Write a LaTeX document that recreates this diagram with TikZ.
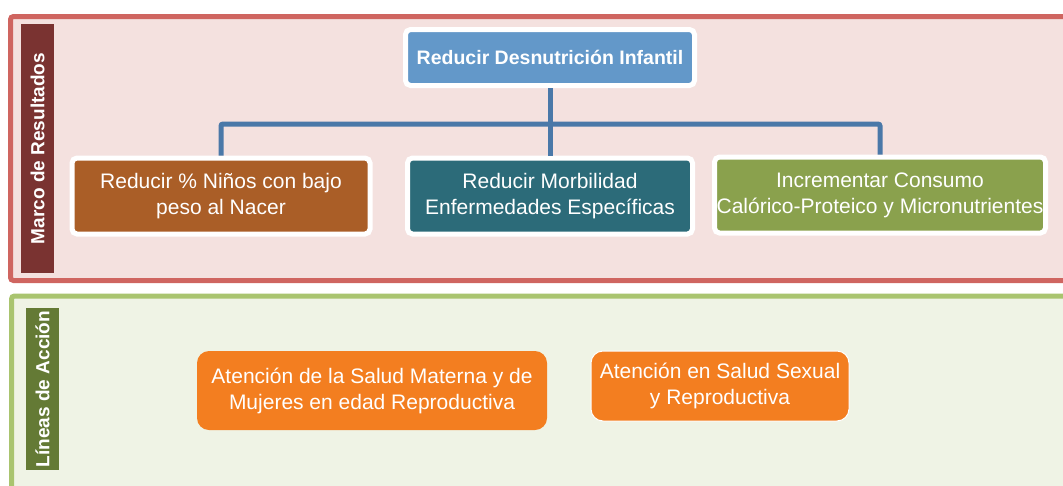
\documentclass[tikz,border=0pt]{standalone}
\usepackage{fontspec}
\setmainfont{Liberation Sans}
\usepackage{tikz}
\usetikzlibrary{positioning}
\usepackage{xcolor}
\definecolor{redline}{HTML}{CF6560}
\definecolor{redfill}{HTML}{F4E1DF}
\definecolor{greenline}{HTML}{A9C46F}
\definecolor{greenfill}{HTML}{EFF3E5}
\definecolor{maroonbar}{HTML}{7A3331}
\definecolor{olivebar}{HTML}{647A35}
\definecolor{skyblue}{HTML}{6398C9}
\definecolor{rustcol}{HTML}{AA5E27}
\definecolor{tealcol}{HTML}{2C6B79}
\definecolor{grasscol}{HTML}{8AA14D}
\definecolor{orangecol}{HTML}{F37E20}
\definecolor{linkcol}{HTML}{4A78A8}
\tikzstyle{panel}=[line width=5,rounded corners=3]
\tikzstyle{sidebar}=[rotate=90,text=white,inner sep=0,font=\fontsize{19}{22}\selectfont\bfseries]
\tikzstyle{goal}=[draw=white,line width=5,rounded corners=5,text=white,align=center,
                  inner sep=0,font=\fontsize{21}{26}\selectfont]
\tikzstyle{action}=[fill=orangecol,rounded corners=12,text=white,align=center,
                    inner sep=0,font=\fontsize{21}{26}\selectfont]
\tikzstyle{link}=[line width=5,linkcol,rounded corners=2]

\begin{document}
\begin{tikzpicture}[x=1pt,y=-1pt]
  \def\hg{76}  % goal height
  \def\yg{196} % goal row
  \clip (0,0) rectangle (1063,485);

  % PANELS
  \draw[panel,draw=redline,fill=redfill] (10.5,16.5) rectangle (1085,280.5);
  \draw[panel,draw=greenline,fill=greenfill] (11.5,296) rectangle (1085,505);
  \node[sidebar,fill=maroonbar,minimum width=249,minimum height=33] (marco) at (37.5,148.5) {Marco de Resultados};
  \node[sidebar,fill=olivebar,minimum width=162,minimum height=33] (lineas) at (42.5,389) {Líneas de Acción};

  % GOALS
  \node[goal,fill=skyblue,minimum width=289,minimum height=56,font=\fontsize{19.5}{24}\selectfont\bfseries] (desnut) at (550,57.5) {Reducir Desnutrición Infantil};
  \node[goal,fill=rustcol,minimum width=298,minimum height=\hg] (peso) at (221,\yg) {Reducir \% Niños con bajo\\peso al Nacer};
  \node[goal,fill=tealcol,minimum width=285,minimum height=\hg] (morb) at (550,\yg) {Reducir Morbilidad\\Enfermedades Específicas};
  \node[goal,fill=grasscol,minimum width=331,minimum height=\hg] (consumo) at (880,\yg-1) {Incrementar Consumo\\Calórico-Proteico y Micronutrientes};

  % LINKS
  \coordinate (bus) at (550,124);
  \draw[link] (desnut.south) -- (morb.north);
  \draw[link] (peso.north) |- (bus) -| (consumo.north);

  % ACTIONS
  \node[action,minimum width=350,minimum height=79] (materna) at (372,390.5) {Atención de la Salud Materna y de\\Mujeres en edad Reproductiva};
  \node[action,draw=white,line width=1,minimum width=258,minimum height=70] (sexual) at (720,386) {Atención en Salud Sexual\\y Reproductiva};
\end{tikzpicture}
\end{document}
